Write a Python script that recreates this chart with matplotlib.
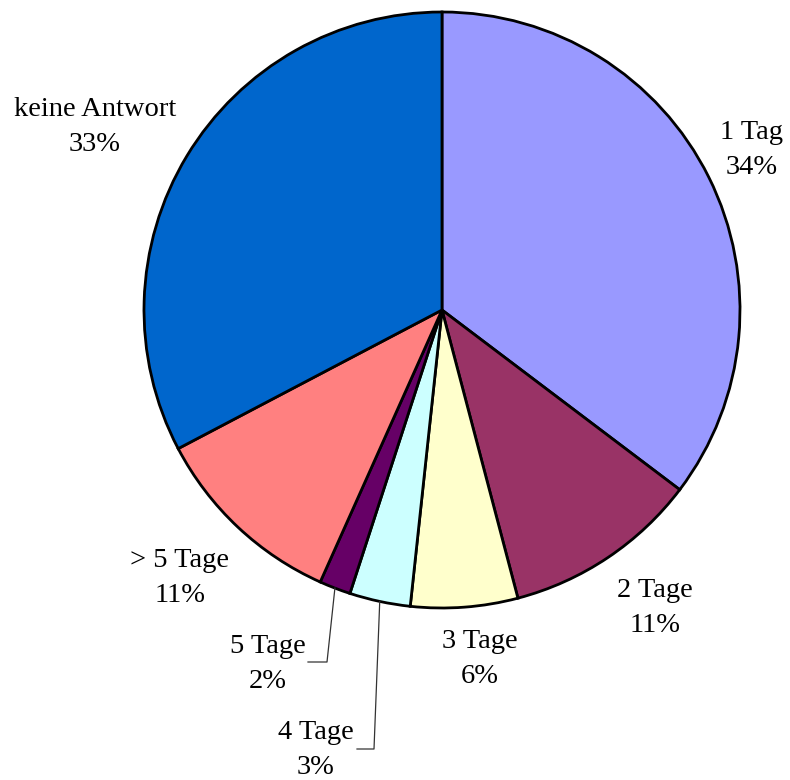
import numpy as np
import matplotlib
matplotlib.use("Agg")
import matplotlib.pyplot as plt

categories = ["1 Tag", "2 Tage", "3 Tage", "4 Tage", "5 Tage", "> 5 Tage", "keine Antwort"]
shares = [35.3, 10.6, 5.8, 3.3, 1.7, 10.6, 32.7]
pct_labels = ["34%", "11%", "6%", "3%", "2%", "11%", "33%"]
colors = ["#9999FF", "#993366", "#FFFFCC", "#CCFFFF", "#660066", "#FF8080", "#0066CC"]

W, H = 790, 780
CX, CY, R = 442, 310, 298

fig = plt.figure(figsize=(W / 100, H / 100), dpi=100)
ax = fig.add_axes([0, 0, 1, 1])

wedges, _ = ax.pie(shares, colors=colors, startangle=90, counterclock=False,
                   radius=1, center=(0, 0), frame=True,
                   wedgeprops=dict(edgecolor="black", linewidth=2))
ax.set_xlim(-CX / R, (W - CX) / R)
ax.set_ylim(-(H - CY) / R, CY / R)
ax.set_aspect("equal")
ax.axis("off")

def px(x, y):
    return (x - CX) / R, (CY - y) / R

# label block centres in pixel layout
label_pos = [(752, 150), (655, 608), (480, 659), (316, 750), (268, 664), (180, 578), (95, 127)]
for cat, pct, pos in zip(categories, pct_labels, label_pos):
    ax.text(*px(*pos), f"{cat}\n{pct}", ha="center", va="center",
            fontsize=20.5, family="Liberation Serif", linespacing=1.55, color="black")

# leader lines for small slices
leaders = {3: [(374, 749), (357, 749)], 4: [(327, 662), (308, 662)]}
for idx, pts in leaders.items():
    w = wedges[idx]
    mid = np.deg2rad((w.theta1 + w.theta2) / 2)
    start = (np.cos(mid), np.sin(mid))
    xs = [start[0]] + [px(*p)[0] for p in pts]
    ys = [start[1]] + [px(*p)[1] for p in pts]
    ax.plot(xs, ys, color="#333333", linewidth=0.9)

fig.savefig("out.png", dpi=100)
